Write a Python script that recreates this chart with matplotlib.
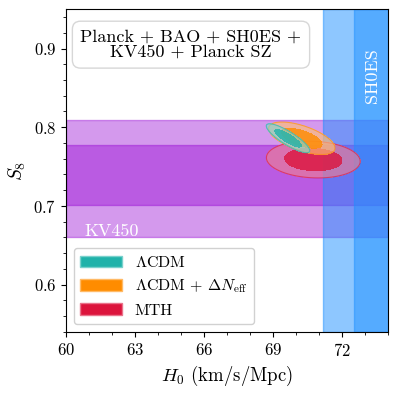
import numpy as np
import matplotlib
matplotlib.use("Agg")
import matplotlib.pyplot as plt
import matplotlib.colors as mcolors
from matplotlib.patches import Patch
from matplotlib.ticker import MultipleLocator

plt.rcParams['font.family'] = 'serif'
plt.rcParams['font.serif'] = ['cmr10', 'DejaVu Serif']
plt.rcParams['mathtext.fontset'] = 'cm'
plt.rcParams['axes.formatter.use_mathtext'] = True

# data
models = [r'MTH', r'$\Lambda$CDM + $\Delta N_{\rm eff}$', r'$\Lambda$CDM']
model_colors = ['crimson', 'darkorange', 'lightseagreen']
h0_mean = [70.75, 70.25, 69.65]
h0_sig = [0.82, 0.58, 0.38]
s8_mean = [0.759, 0.786, 0.786]
s8_sig = [0.0094, 0.0083, 0.0074]
corr = [-0.1, -0.6, -0.85]

kv450_1s = [0.701, 0.777]
kv450_2s = [0.660, 0.809]
shoes_1s = [72.52, 75.45]
shoes_2s = [71.17, 76.87]


def lighten(c, f):
    rgb = np.array(mcolors.to_rgb(c))
    return tuple(rgb + (1 - rgb) * f)


fig = plt.figure(figsize=(3.98, 3.98), dpi=100)
ax = fig.add_axes([0.166, 0.166, 0.809, 0.811])

# KV450 band
ax.axhspan(kv450_2s[0], kv450_2s[1], facecolor='darkviolet', alpha=0.4, edgecolor='darkviolet', lw=1, zorder=1)
ax.axhspan(kv450_1s[0], kv450_1s[1], facecolor='darkviolet', alpha=0.4, edgecolor='darkviolet', lw=1, zorder=1)
# SH0ES band
ax.axvspan(shoes_2s[0], shoes_2s[1], facecolor='dodgerblue', alpha=0.5, edgecolor='dodgerblue', lw=1, zorder=2)
ax.axvspan(shoes_1s[0], shoes_1s[1], facecolor='dodgerblue', alpha=0.5, edgecolor='dodgerblue', lw=1, zorder=2)

# contours
hh, ss = np.meshgrid(np.linspace(66, 75, 400), np.linspace(0.7, 0.85, 400))
for i in range(len(models)):
    dx = (hh - h0_mean[i]) / h0_sig[i]
    dy = (ss - s8_mean[i]) / s8_sig[i]
    r = corr[i]
    chi2 = (dx**2 - 2*r*dx*dy + dy**2) / (1 - r**2)
    c = model_colors[i]
    ax.contourf(hh, ss, chi2, levels=[0, 6.18], colors=[lighten(c, 0.45)], alpha=0.65, zorder=3+i)
    ax.contourf(hh, ss, chi2, levels=[0, 2.30], colors=[c], alpha=0.8, zorder=3+i)
    ax.contour(hh, ss, chi2, levels=[6.18], colors=[c], linewidths=0.8, alpha=0.6, zorder=3+i)

ax.text(60.8, 0.662, 'KV450', color='white', fontsize=13, zorder=6)
ax.text(73.3, 0.866, 'SH0ES', color='white', fontsize=13, rotation=90, ha='center', va='center', zorder=6)

ax.text(0.388, 0.89, 'Planck + BAO + SH0ES +\nKV450 + Planck SZ', transform=ax.transAxes,
        ha='center', va='center', fontsize=13, linespacing=1.0, zorder=7,
        bbox=dict(boxstyle='round,pad=0.45', facecolor='white', edgecolor='lightgray', alpha=0.9))

handles = [Patch(facecolor=model_colors[i], edgecolor=lighten(model_colors[i], 0.4)) for i in [2, 1, 0]]
labels = [models[i] for i in [2, 1, 0]]
ax.legend(handles, labels, loc='lower left', fontsize=11.5, framealpha=0.9, handlelength=2.6,
          borderaxespad=0.5).set_zorder(8)

ax.set_xlim(60, 74)
ax.set_ylim(0.54, 0.95)
ax.xaxis.set_major_locator(MultipleLocator(3))
ax.xaxis.set_minor_locator(MultipleLocator(1))
ax.yaxis.set_major_locator(MultipleLocator(0.1))
ax.yaxis.set_minor_locator(MultipleLocator(0.02))
ax.tick_params(labelsize=12)
ax.set_xlabel(r'$H_0$ (km/s/Mpc)', fontsize=13.5)
ax.set_ylabel(r'$S_8$', fontsize=14)

fig.savefig('out.png', dpi=100)
